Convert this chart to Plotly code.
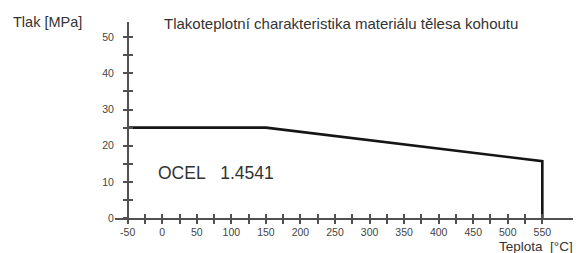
import plotly.graph_objects as go

# Data
temperature = [-50, 150, 550, 550]
pressure = [25, 25, 15.7, 0]
x_tick_vals = list(range(-50, 551, 25))
x_tick_text = [str(v) if v % 50 == 0 else "" for v in x_tick_vals]
y_tick_vals = list(range(0, 51, 5))
y_tick_text = [str(v) if v % 10 == 0 else "" for v in y_tick_vals]

OFF = 8  # page body margin offset
W, H = 581 - OFF, 253 - OFF
L, R, T, B = 115 - OFF, 6, 21.7 - OFF, 35.3
pw, ph = W - L - R, H - T - B

def px(x):
    return (x - OFF - L) / pw

def py(y):
    return (H - B - (y - OFF)) / ph

xr = [-68.4, 597.3]
yr = [0, 54.2]
axis_col = "#505050"
txt_col = "#444444"
font = "Liberation Sans, Arial, sans-serif"

fig = go.Figure()
fig.add_trace(go.Scatter(x=temperature, y=pressure, mode="lines",
                         line=dict(color="#151515", width=2.6),
                         showlegend=False, hoverinfo="skip"))
fig.add_trace(go.Scatter(x=[None], y=[None], xaxis="x2", yaxis="y2",
                         showlegend=False, hoverinfo="skip"))

ypos = (127.7 - OFF - L) / pw

fig.update_layout(
    width=W, height=H,
    margin=dict(l=L, r=R, t=T, b=B, pad=0),
    paper_bgcolor="white", plot_bgcolor="white",
    font=dict(family=font, color=txt_col),
    xaxis=dict(range=xr, tickvals=x_tick_vals, ticktext=x_tick_text,
               ticks="outside", ticklen=4, tickwidth=1.5, tickcolor=axis_col,
               showline=True, linecolor=axis_col, linewidth=1.5,
               showgrid=False, zeroline=False, anchor="y",
               tickfont=dict(size=10.5, color=txt_col), fixedrange=True),
    xaxis2=dict(range=xr, tickvals=x_tick_vals, ticks="inside", ticklen=4,
                tickwidth=1.5, tickcolor=axis_col, showticklabels=False,
                showline=False, showgrid=False, zeroline=False,
                overlaying="x", anchor="y", side="bottom"),
    yaxis=dict(range=yr, tickvals=y_tick_vals, ticktext=y_tick_text,
               ticks="outside", ticklen=4, tickwidth=1.5, tickcolor=axis_col,
               showline=True, linecolor=axis_col, linewidth=1.5,
               showgrid=False, zeroline=False, anchor="free", position=ypos,
               ticklabelstandoff=7,
               tickfont=dict(size=10.5, color=txt_col), fixedrange=True),
    yaxis2=dict(range=yr, tickvals=y_tick_vals, ticks="inside", ticklen=4,
                tickwidth=1.5, tickcolor=axis_col, showticklabels=False,
                showline=False, showgrid=False, zeroline=False,
                overlaying="y", anchor="free", position=ypos, side="left"),
)

ann = [
    dict(text="Tlak [MPa]", x=px(11), y=py(22), size=14.5),
    dict(text="Tlakoteplotní charakteristika materiálu tělesa kohoutu",
         x=px(162), y=py(23), size=15),
    dict(text="OCEL&nbsp;&nbsp;&nbsp;1.4541", x=px(156), y=py(172.7), size=17.5),
    dict(text="Teplota&nbsp;&nbsp;[°C]", x=px(497), y=py(246.5), size=13.5),
]
for a in ann:
    fig.add_annotation(text=a["text"], x=a["x"], y=a["y"], xref="paper",
                       yref="paper", xanchor="left", yanchor="middle",
                       showarrow=False,
                       font=dict(size=a["size"], color="#333333", family=font))

fig.write_html("out.html")
